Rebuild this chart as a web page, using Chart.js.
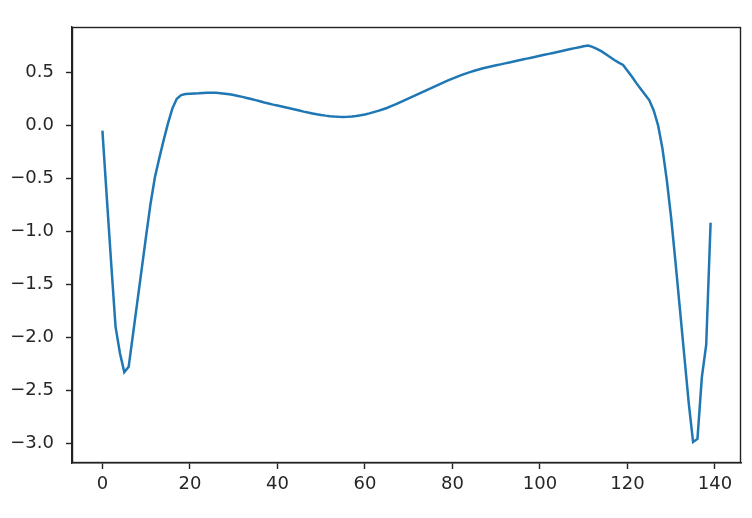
<!DOCTYPE html>
<html>
<head>
<meta charset="utf-8">
<script src="https://cdn.jsdelivr.net/npm/chart.js@4"></script>
<style>
html,body{margin:0;padding:0;background:#fff;}
canvas{display:block;}
</style>
</head>
<body>
<canvas id="c" width="752" height="518"></canvas>
<script>
const xValues = Array.from({length: 140}, (_, i) => i);
const seriesValues = [
 -0.05, -0.68, -1.30, -1.90, -2.15, -2.33, -2.28, -1.97, -1.66, -1.35,
 -1.04, -0.74, -0.49, -0.31, -0.14, 0.02, 0.16, 0.25, 0.285, 0.295,
 0.298, 0.300, 0.302, 0.305, 0.307, 0.308, 0.307, 0.303, 0.298, 0.292,
 0.285, 0.277, 0.268, 0.258, 0.248, 0.237, 0.226, 0.215, 0.205, 0.195,
 0.186, 0.177, 0.168, 0.159, 0.149, 0.139, 0.129, 0.120, 0.112, 0.104,
 0.097, 0.091, 0.086, 0.082, 0.080, 0.079, 0.080, 0.082, 0.087, 0.094,
 0.102, 0.112, 0.124, 0.136, 0.149, 0.163, 0.180, 0.198, 0.216, 0.235,
 0.254, 0.273, 0.292, 0.311, 0.330, 0.349, 0.368, 0.387, 0.405, 0.423,
 0.440, 0.457, 0.473, 0.488, 0.502, 0.515, 0.527, 0.538, 0.548, 0.557,
 0.566, 0.575, 0.584, 0.593, 0.602, 0.611, 0.620, 0.629, 0.638, 0.647,
 0.656, 0.665, 0.674, 0.683, 0.692, 0.701, 0.710, 0.719, 0.728, 0.737,
 0.746, 0.752, 0.740, 0.722, 0.700, 0.672, 0.644, 0.616, 0.592, 0.570,
 0.515, 0.460, 0.400, 0.345, 0.290, 0.235, 0.140, 0.000, -0.220, -0.520,
 -0.880, -1.300, -1.740, -2.180, -2.620, -2.990, -2.960, -2.380, -2.070, -0.920
];
const xTicks = [0, 20, 40, 60, 80, 100, 120, 140];
const yTicks = [-3.0, -2.5, -2.0, -1.5, -1.0, -0.5, 0.0, 0.5];

const frame = {
  id: 'frame',
  afterDraw(chart) {
    const a = chart.chartArea, ctx = chart.ctx;
    ctx.save();
    ctx.strokeStyle = '#222';
    ctx.lineWidth = 1.4;
    ctx.strokeRect(Math.round(a.left) + 0.5, Math.round(a.top) + 0.5,
                   Math.round(a.right - a.left) - 1, Math.round(a.bottom - a.top) - 1);
    ctx.restore();
  }
};

const fmt = v => {
  const s = Number(v).toFixed(1);
  return s.replace('-', '\u2212');
};

new Chart(document.getElementById('c'), {
  type: 'line',
  data: {
    datasets: [{
      data: xValues.map((x, i) => ({x: x, y: seriesValues[i]})),
      borderColor: '#1f77b4',
      borderWidth: 2.5,
      pointRadius: 0,
      tension: 0,
      fill: false
    }]
  },
  options: {
    responsive: false,
    animation: false,
    layout: {padding: {left: 0, top: 27, right: 11, bottom: 0}},
    plugins: {legend: {display: false}, tooltip: {enabled: false}},
    scales: {
      x: {
        type: 'linear',
        min: -6.95, max: 145.95,
        afterBuildTicks: s => { s.ticks = xTicks.map(v => ({value: v})); },
        afterFit: s => { s.height = 55; },
        grid: {drawOnChartArea: false, drawTicks: true, tickLength: 6, tickColor: '#222', tickWidth: 1.4},
        border: {display: true, color: '#222', width: 1.4},
        ticks: {color: '#262626', font: {family: 'DejaVu Sans', size: 18}, padding: 5, maxRotation: 0,
                callback: v => String(v)}
      },
      y: {
        type: 'linear',
        min: -3.1875, max: 0.9275,
        afterBuildTicks: s => { s.ticks = yTicks.map(v => ({value: v})); },
        afterFit: s => { s.width = 72; },
        grid: {drawOnChartArea: false, drawTicks: true, tickLength: 6, tickColor: '#222', tickWidth: 1.4},
        border: {display: true, color: '#222', width: 1.4},
        ticks: {color: '#262626', font: {family: 'DejaVu Sans', size: 18}, padding: 12,
                callback: v => fmt(v)}
      }
    }
  },
  plugins: [frame]
});
</script>
</body>
</html>
